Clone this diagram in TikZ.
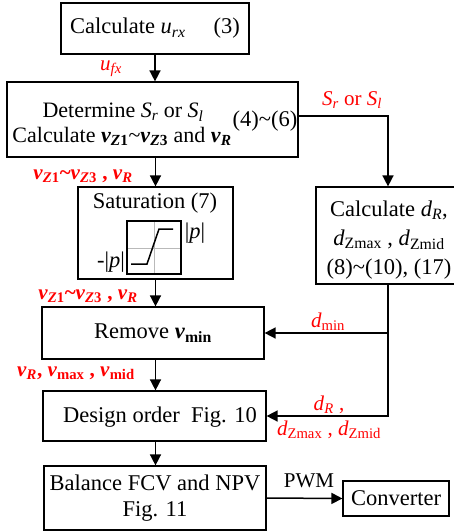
\documentclass[tikz,border=0pt]{standalone}
\usepackage{fontspec}
\setmainfont{Liberation Serif}
\usetikzlibrary{arrows.meta}
% text-mode helpers for the symbols in the flow chart
\newcommand\lo[1]{\textsubscript{#1}}
\newcommand\bvz[1]{\textbf{\textit{v}\textsubscript{\textit{Z}#1}}}
\newcommand\bvr{\textbf{\textit{v}\textsubscript{\textit{R}}}}

\begin{document}
\begin{tikzpicture}[x=1pt,y=-1pt,
  box/.style={draw, line width=1.2pt, inner sep=0pt, align=center,
    font=\fontsize{22.5}{26}\selectfont},
  txt/.style={inner sep=0pt, align=center, font=\fontsize{22.5}{26}\selectfont},
  lbl/.style={inner sep=0pt, align=center, text=red, font=\fontsize{21}{24}\selectfont},
  arr/.style={line width=1.5pt, -{Triangle[length=11pt,width=11pt]}},
  wire/.style={line width=1.5pt}]
\useasboundingbox (0,0) rectangle (454,531);
\fill[white] (0,0) rectangle (454,531);
\clip (0,0) rectangle (454,531);

% boxes
\node[box, minimum width=188pt, minimum height=51pt] (b1) at (155,28.5)
  {Calculate \textit{u}\lo{\textit{rx}}\quad\ (3)};
\node[box, minimum width=291pt, minimum height=75pt] (b2) at (152.5,119.5) {};
\node[txt, font=\fontsize{22}{22}\selectfont, anchor=base] (b2a) at (123,117.5)
  {Determine \textit{S}\lo{\textit{r}} or \textit{S}\lo{\textit{l}}};
\node[txt, font=\fontsize{22}{22}\selectfont, anchor=base] (b2b) at (122,142)
  {Calculate \bvz1\textasciitilde\bvz3{} and \bvr};
\node[txt, anchor=base] (b2n) at (265,126) {(4)\textasciitilde(6)};

\node[box, minimum width=155pt, minimum height=92pt] (sat) at (155.5,233) {};
\node[txt] (satt) at (155,203) {Saturation (7)};
% saturation characteristic
\draw[gray!55, line width=1pt] (154,221) -- (154,274) (127,248) -- (181,248);
\draw[line width=1.2pt] (127,221) rectangle (181,274);
\draw[line width=1.5pt] (131,264) -- (147,264) -- (159,229) -- (173,229);
\node[txt] (pp) at (195,233) {|\textit{p}|};
\node[txt] (mp) at (111,262) {-|\textit{p}|};

\node[box, minimum width=144pt, minimum height=97pt] (calc) at (388,235.5) {};
\node[txt, font=\fontsize{22.5}{29}\selectfont] (calct) at (389,240)
  {Calculate \textit{d}\lo{\textit{R}},\\
   \textit{d}\lo{Zmax} , \textit{d}\lo{Zmid}\\
   (8)\textasciitilde(10), (17)};

\node[box, minimum width=222pt, minimum height=52pt] (rem) at (153,333)
  {Remove \textbf{\textit{v}\lo{min}}};
\node[box, minimum width=223pt, minimum height=50pt] (des) at (154.5,416) {};
\node[txt] (dest) at (160,417) {Design order\ \ Fig. 10};
\node[box, minimum width=222pt, minimum height=64pt] (bal) at (155,498)
  {Balance FCV and NPV\\Fig. 11};
\node[box, minimum width=106pt, minimum height=35pt] (conv) at (396,498.5) {Converter};

% connectors
\draw[arr] (b1.south) -- (b1.south |- b2.north);
\draw[arr] ([yshift=3.5pt]b2.east) -| (calc.north);
\draw[arr] (sat.north |- b2.south) -- (sat.north);
\draw[arr] (sat.south) -- (sat.south |- rem.north);
\draw[arr] (sat.south |- rem.south) -- (sat.south |- des.north);
\draw[arr] (sat.south |- des.south) -- (sat.south |- bal.north);
\coordinate (j) at (calc.south |- rem.east);
\draw[arr] (calc.south) |- (des.east);
\draw[arr] (j) -- (rem.east);
\draw[arr] (bal.east) -- (conv.west);

% signal labels
\node[lbl] (lufx) at (111,69) {\textit{u}\lo{\textit{fx}}};
\node[lbl] (lsrl) at (352,100) {\textit{S}\lo{\textit{r}} or \textit{S}\lo{\textit{l}}};
\node[lbl] (lv1) at (83,176) {\textbf{\textit{v}\lo{\textit{Z}1}\textasciitilde\textit{v}\lo{\textit{Z}3} , \textit{v}\lo{\textit{R}}}};
\node[lbl] (lv2) at (88,296) {\textbf{\textit{v}\lo{\textit{Z}1}\textasciitilde\textit{v}\lo{\textit{Z}3} , \textit{v}\lo{\textit{R}}}};
\node[lbl] (ldmin) at (328,322) {\textit{d}\lo{min}};
\node[lbl] (lvr) at (76,373) {\textbf{\textit{v}\lo{\textit{R}}, \textit{v}\lo{max} , \textit{v}\lo{mid}}};
\node[lbl] (ldr) at (329,405) {\textit{d}\lo{\textit{R}} ,};
\node[lbl] (ldz) at (329,430) {\textit{d}\lo{Zmax} , \textit{d}\lo{Zmid}};
\node[lbl, text=black] (lpwm) at (309,481) {PWM};
\end{tikzpicture}
\end{document}
